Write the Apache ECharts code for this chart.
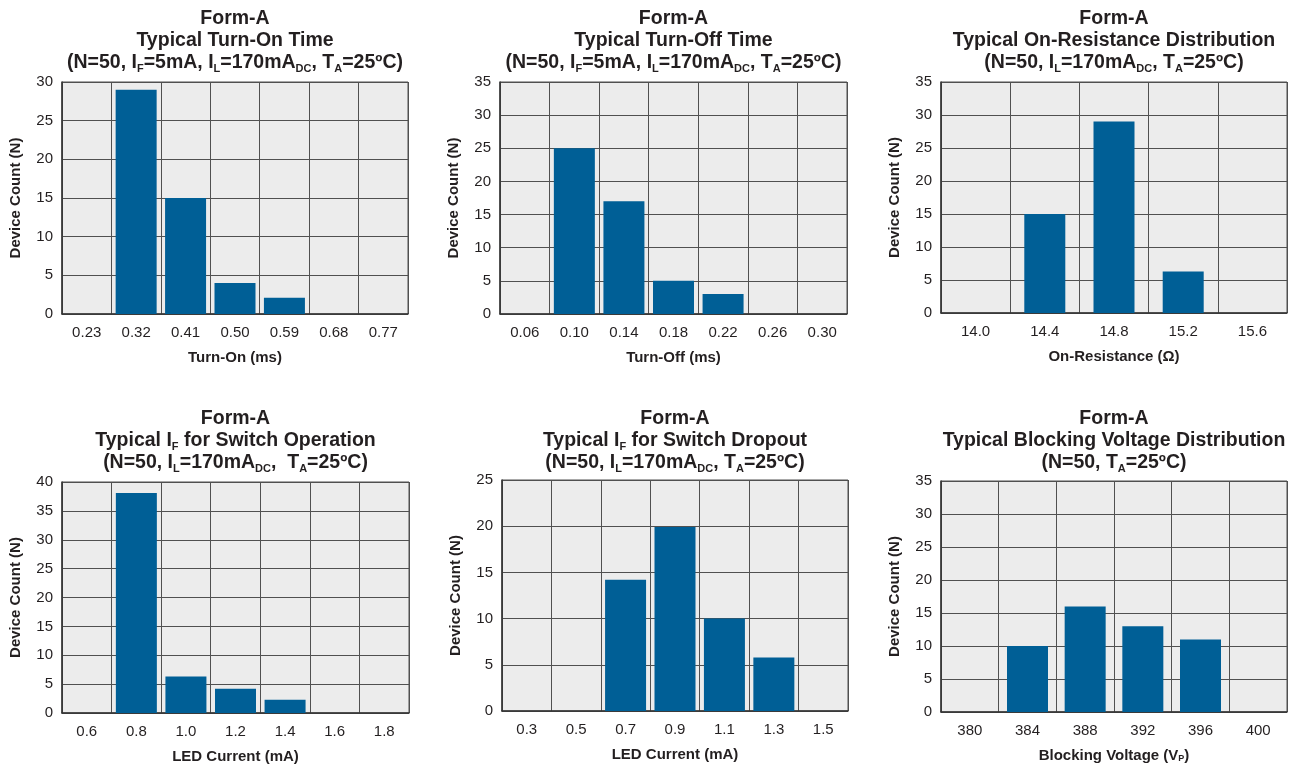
<!DOCTYPE html>
<html>
<head>
<meta charset="utf-8">
<script src="https://cdn.jsdelivr.net/npm/echarts@6/dist/echarts.min.js"></script>
<style>
html,body{margin:0;padding:0;background:#fff;}
#c{width:1299px;height:765px;}
</style>
</head>
<body>
<div id="c"></div>
<script>
// ---- data ----
const turnOnCats = ['0.23','0.32','0.41','0.50','0.59','0.68','0.77'];
const turnOnVals = [0, 29, 15, 4, 2.1, 0, 0];

const turnOffCats = ['0.06','0.10','0.14','0.18','0.22','0.26','0.30'];
const turnOffVals = [0, 25, 17, 5, 3, 0, 0];

const onResCats = ['14.0','14.4','14.8','15.2','15.6'];
const onResVals = [0, 15, 29, 6.3, 0];

const ifOpCats = ['0.6','0.8','1.0','1.2','1.4','1.6','1.8'];
const ifOpVals = [0, 38.1, 6.3, 4.2, 2.3, 0, 0];

const ifDropCats = ['0.3','0.5','0.7','0.9','1.1','1.3','1.5'];
const ifDropVals = [0, 0, 14.2, 19.9, 10, 5.8, 0];

const blockCats = ['380','384','388','392','396','400'];
const blockVals = [0, 10, 16, 13, 11, 0];

const yMaxes = [30, 35, 35, 40, 25, 35];
const yStep = 5;

const titleTexts = [
  'Form-A\nTypical Turn-On Time\n(N=50, I{s|F}=5mA, I{s|L}=170mA{s|DC}, T{s|A}=25ºC)',
  'Form-A\nTypical Turn-Off Time\n(N=50, I{s|F}=5mA, I{s|L}=170mA{s|DC}, T{s|A}=25ºC)',
  'Form-A\nTypical On-Resistance Distribution\n(N=50, I{s|L}=170mA{s|DC}, T{s|A}=25ºC)',
  'Form-A\nTypical I{s|F} for Switch Operation\n(N=50, I{s|L}=170mA{s|DC},  T{s|A}=25ºC)',
  'Form-A\nTypical I{s|F} for Switch Dropout\n(N=50, I{s|L}=170mA{s|DC}, T{s|A}=25ºC)',
  'Form-A\nTypical Blocking Voltage Distribution\n(N=50, T{s|A}=25ºC)'
];
const xNames = ['Turn-On (ms)', 'Turn-Off (ms)', 'On-Resistance (Ω)', 'LED Current (mA)', 'LED Current (mA)', 'Blocking Voltage (V{s|P})'];
const yName = 'Device Count (N)';

const allCats = [turnOnCats, turnOffCats, onResCats, ifOpCats, ifDropCats, blockCats];
const allVals = [turnOnVals, turnOffVals, onResVals, ifOpVals, ifDropVals, blockVals];

// ---- layout ----
const grids = [
  {left: 62,  top: 82,  width: 346, height: 232},
  {left: 500, top: 82,  width: 347, height: 232},
  {left: 941, top: 82,  width: 346, height: 231},
  {left: 62,  top: 482, width: 347, height: 231},
  {left: 502, top: 480, width: 346, height: 231},
  {left: 941, top: 481, width: 346, height: 231}
];
const titleTops = [8, 8, 8, 408, 408, 408];

const FONT = '"Liberation Sans", Arial, Helvetica, sans-serif';
const TXT = '#231f20';
const LINE = '#505050';
const BAR = '#005f96';

const subRich = {
  s: {fontSize: 11, fontWeight: 'bold', fontFamily: FONT, color: TXT, lineHeight: 5, verticalAlign: 'bottom'}
};

const option = {
  animation: false,
  backgroundColor: '#ffffff',
  grid: grids.map(g => Object.assign({
    show: true, backgroundColor: '#ececec', borderColor: LINE, borderWidth: 1, containLabel: false
  }, g)),
  xAxis: allCats.map((cats, i) => ({
    type: 'category', gridIndex: i, data: cats, boundaryGap: true,
    axisLine: {show: true, lineStyle: {color: '#333', width: 1.5}},
    axisTick: {show: false},
    axisLabel: {interval: 0, margin: 11, fontSize: 15, fontFamily: FONT, color: TXT},
    splitLine: {show: true, interval: 0, lineStyle: {color: LINE, width: 1}},
    name: xNames[i], nameLocation: 'middle', nameGap: 36,
    nameTextStyle: {fontSize: 15, fontWeight: 'bold', fontFamily: FONT, color: TXT,
      rich: {s: {fontSize: 9, fontWeight: 'bold', fontFamily: FONT, color: TXT, lineHeight: 5, verticalAlign: 'bottom'}}}
  })),
  yAxis: yMaxes.map((m, i) => ({
    type: 'value', gridIndex: i, min: 0, max: m, interval: yStep,
    axisLine: {show: true, lineStyle: {color: '#333', width: 1.5}},
    axisTick: {show: false},
    axisLabel: {margin: 9, fontSize: 15, fontFamily: FONT, color: TXT},
    splitLine: {show: true, lineStyle: {color: LINE, width: 1}},
    name: yName, nameLocation: 'middle', nameGap: 39, nameRotate: 90,
    nameTextStyle: {fontSize: 15, fontWeight: 'bold', fontFamily: FONT, color: TXT}
  })),
  series: allVals.map((vals, i) => ({
    type: 'bar', xAxisIndex: i, yAxisIndex: i, data: vals, barWidth: 41,
    itemStyle: {color: BAR}, silent: true, z: 3
  })),
  graphic: titleTexts.map((t, i) => ({
    type: 'text', silent: true,
    x: grids[i].left + grids[i].width / 2, y: titleTops[i],
    style: {
      text: t, align: 'center', verticalAlign: 'top',
      fontSize: 19.5, fontWeight: 'bold', fontFamily: FONT, fill: TXT, lineHeight: 22,
      rich: subRich
    }
  }))
};

const chart = echarts.init(document.getElementById('c'), null, {renderer: 'canvas'});
chart.setOption(option);
</script>
</body>
</html>
